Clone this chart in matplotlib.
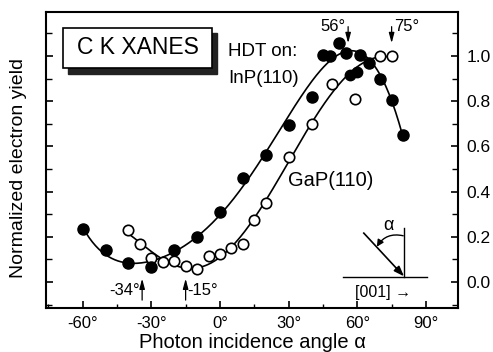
import numpy as np
import matplotlib
matplotlib.use("Agg")
import matplotlib.pyplot as plt
from matplotlib.ticker import MultipleLocator, FuncFormatter
from matplotlib.patches import Rectangle, FancyArrowPatch

plt.rcParams['font.family'] = ['Liberation Sans', 'DejaVu Sans']

# ---- data ----
inp_x = [-60, -50, -40, -30, -20, -10, 0, 10, 20, 30, 40, 45, 48, 52, 55, 61, 65, 70, 75, 80]
inp_y = [0.235, 0.142, 0.083, 0.065, 0.14, 0.198, 0.308, 0.459, 0.56, 0.695, 0.82,
         1.004, 1.0, 1.056, 1.015, 1.004, 0.968, 0.90, 0.805, 0.65]

gap_x = [-40, -35, -30, -25, -20, -15, -10, -5, 0, 5, 10, 15, 20, 30, 40, 49, 59, 70, 75]
gap_y = [0.23, 0.167, 0.108, 0.09, 0.093, 0.071, 0.056, 0.117, 0.122, 0.149, 0.168,
         0.274, 0.351, 0.555, 0.70, 0.875, 0.81, 1.0, 1.0]
gap_dark_x = [57, 60]          # GaP points that appear filled in the scan
gap_dark_y = [0.916, 0.93]

peak_angles = [56, 75]
min_angles = [-34, -15]

xticks = [-60, -30, 0, 30, 60, 90]
yticks = [0.0, 0.2, 0.4, 0.6, 0.8, 1.0]

fig = plt.figure(figsize=(4.93, 3.52), dpi=100)
ax = fig.add_axes([0.0933, 0.125, 0.8357, 0.841])
ax.set_xlim(-76, 104)
ax.set_ylim(-0.115, 1.195)

# smooth curves fitted to the data
cx = np.linspace(min(inp_x), max(inp_x), 300)
pin = np.polyfit(inp_x, inp_y, 6)
ax.plot(cx, np.polyval(pin, cx), color='black', lw=1.2, zorder=2)

gx_all = np.array(gap_x + gap_dark_x)
gy_all = np.array(gap_y + gap_dark_y)
w = np.ones_like(gx_all, dtype=float)
w[gx_all == 59] = 0.2
pg = np.polyfit(gx_all, gy_all, 5, w=w)
cg = np.linspace(min(gap_x), max(gap_x), 300)
ax.plot(cg, np.polyval(pg, cg), color='black', lw=1.2, zorder=2)

ax.plot(inp_x, inp_y, 'o', ms=8, mfc='black', mec='black', zorder=4)
ax.plot(gap_x, gap_y, 'o', ms=7.5, mfc='white', mec='black', mew=1.2, zorder=3)
ax.plot(gap_dark_x, gap_dark_y, 'o', ms=7.5, mfc='black', mec='black', zorder=3)

# ticks
ax.xaxis.set_major_locator(plt.FixedLocator(xticks))
ax.xaxis.set_minor_locator(MultipleLocator(15))
ax.xaxis.set_major_formatter(FuncFormatter(lambda v, p: f"{int(v)}°"))
ax.tick_params(axis='x', which='both', direction='in', top=False, bottom=True,
               labelsize=12, pad=6)
ax.tick_params(axis='x', which='major', length=5, width=1.2)
ax.tick_params(axis='x', which='minor', length=3, width=1.0)

ax.yaxis.set_major_locator(plt.FixedLocator(yticks))
ax.yaxis.set_minor_locator(MultipleLocator(0.1))
ax.yaxis.set_major_formatter(FuncFormatter(lambda v, p: f"{v:.1f}"))
ax.yaxis.tick_right()
ax.tick_params(axis='y', which='both', direction='in', left=True, right=True,
               labelleft=False, labelright=True, labelsize=12.5, pad=6)
ax.tick_params(axis='y', which='major', length=5, width=1.2)
ax.tick_params(axis='y', which='minor', length=4, width=1.0)

for s in ax.spines.values():
    s.set_linewidth(1.5)

ax.set_xlabel("Photon incidence angle α", fontsize=14.5, labelpad=1)
fig.text(0.037, 0.524, "Normalized electron yield", rotation=90, fontsize=14,
         ha='center', va='center')

# boxed title with shadow
T = ax.transAxes
ax.add_patch(Rectangle((0.054, 0.790), 0.360, 0.140, transform=T,
                       fc='#222222', ec='#222222', zorder=5))
ax.add_patch(Rectangle((0.042, 0.810), 0.360, 0.137, transform=T,
                       fc='white', ec='black', lw=1.2, zorder=6))
ax.text(0.223, 0.879, "C K XANES", transform=T, fontsize=16.5, ha='center', va='center', zorder=7)

ax.text(0.442, 0.868, "HDT on:", transform=T, fontsize=13.5, ha='left', va='center')
ax.text(0.442, 0.776, "InP(110)", transform=T, fontsize=13.5, ha='left', va='center')
ax.text(0.587, 0.432, "GaP(110)", transform=T, fontsize=14.5, ha='left', va='center')

# peak / minimum markers
arrow = dict(arrowstyle='-|>,head_length=0.6,head_width=0.16', color='black', lw=0.9,
             shrinkA=0, shrinkB=0)
ax.annotate("", xy=(peak_angles[0], 1.057), xytext=(peak_angles[0], 1.13), arrowprops=arrow)
ax.text(peak_angles[0] - 1.2, 1.13, f"{peak_angles[0]}°", fontsize=12, ha='right', va='center')
ax.annotate("", xy=(peak_angles[1], 1.057), xytext=(peak_angles[1], 1.13), arrowprops=arrow)
ax.text(peak_angles[1] + 1.2, 1.13, f"{peak_angles[1]}°", fontsize=12, ha='left', va='center')

ax.annotate("", xy=(min_angles[0], 0.015), xytext=(min_angles[0], -0.08), arrowprops=arrow)
ax.text(min_angles[0] - 1.2, -0.037, f"{min_angles[0]}°", fontsize=12, ha='right', va='center')
ax.annotate("", xy=(min_angles[1], 0.015), xytext=(min_angles[1], -0.08), arrowprops=arrow)
ax.text(min_angles[1] + 0.8, -0.037, f"{min_angles[1]}°", fontsize=12, ha='left', va='center')

# inset geometry sketch
ax.plot([0.721, 0.925], [0.106, 0.106], color='black', lw=1.0, transform=T)
ax.plot([0.869, 0.869], [0.106, 0.269], color='black', lw=1.0, transform=T)
ax.plot([0.770, 0.862], [0.255, 0.117], color='black', lw=1.2, transform=T,
        solid_capstyle='butt')
ax.annotate("", xy=(0.869, 0.107), xytext=(0.850, 0.135), xycoords=T, textcoords=T,
            arrowprops=dict(arrowstyle='-|>,head_length=0.6,head_width=0.22',
                            color='black', lw=1.2, shrinkA=0, shrinkB=0))
ax.add_patch(FancyArrowPatch((0.867, 0.244), (0.803, 0.207), transform=T,
                             arrowstyle='-|>,head_length=4,head_width=2',
                             connectionstyle='arc3,rad=0.35',
                             color='black', lw=1.0, shrinkA=0, shrinkB=0))
ax.text(0.830, 0.277, "α", transform=T, fontsize=13, ha='center', va='center')
ax.text(0.818, 0.054, "[001] →", transform=T, fontsize=11.5, ha='center', va='center')

fig.savefig("out.png", dpi=100)
